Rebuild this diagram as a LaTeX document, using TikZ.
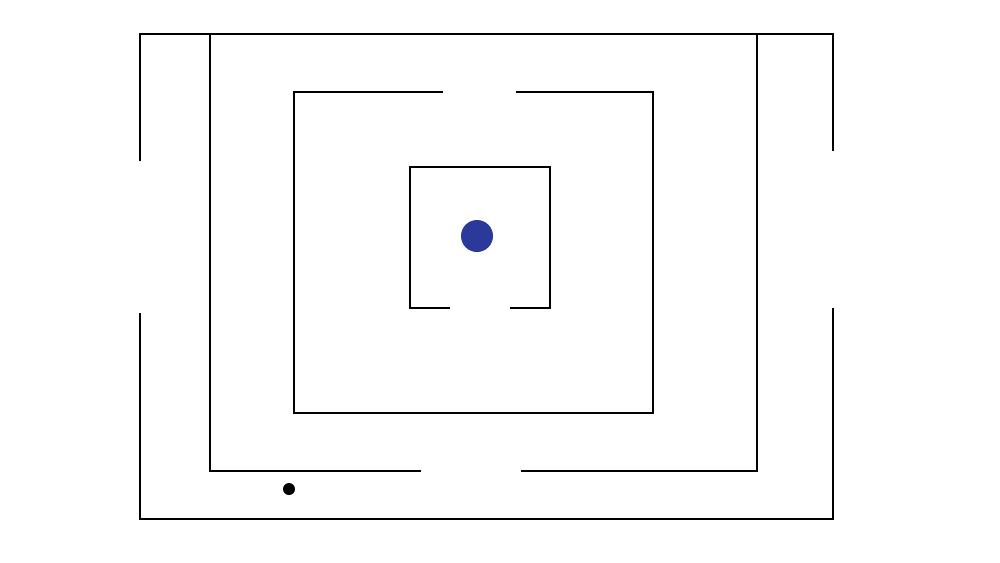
\documentclass[tikz,border=0pt]{standalone}
\usetikzlibrary{calc}
\definecolor{goalblue}{RGB}{43,58,154}
\begin{document}
\begin{tikzpicture}[x=0.02cm,y=-0.02cm,line width=0.7pt]
  \useasboundingbox (0,0) rectangle (1000,562);
  % outer wall
  \draw (140,161) -- (140,34) -- (833,34) -- (833,151);
  \draw (140,313) -- (140,519) -- (833,519) -- (833,308);
  % second wall
  \draw (421,471) -- (210,471) -- (210,34);
  \draw (521,471) -- (757,471) -- (757,34);
  % third wall
  \draw (443,92) -- (294,92) -- (294,413) -- (653,413) -- (653,92) -- (516,92);
  % inner room
  \draw (450,308) -- (410,308) -- (410,167) -- (550,167) -- (550,308) -- (510,308);
  % goal and player
  \fill[goalblue] (477,236) circle[radius=0.32cm];
  \fill (289,489) circle[radius=0.12cm];
\end{tikzpicture}
\end{document}
